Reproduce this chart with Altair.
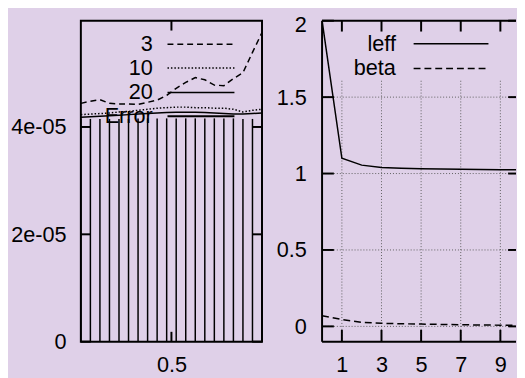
import altair as alt
import pandas as pd

BG = "#dfd0e8"
FONT = "Liberation Sans"
FS = 22

# ---------------- left panel data ----------------
lx = [0.025, 0.075, 0.125, 0.175, 0.225, 0.275, 0.325, 0.375, 0.425, 0.475,
      0.525, 0.575, 0.625, 0.675, 0.725, 0.775, 0.825, 0.875, 0.925, 0.975]
s3 = [4.44e-05, 4.48e-05, 4.51e-05, 4.44e-05, 4.43e-05, 4.43e-05, 4.42e-05, 4.46e-05, 4.50e-05, 4.59e-05,
      4.72e-05, 4.83e-05, 4.92e-05, 4.88e-05, 4.78e-05, 4.77e-05, 4.90e-05, 5.01e-05, 5.39e-05, 5.76e-05]
s10 = [4.23e-05, 4.24e-05, 4.25e-05, 4.26e-05, 4.28e-05, 4.29e-05, 4.31e-05, 4.33e-05, 4.35e-05, 4.36e-05,
       4.37e-05, 4.37e-05, 4.36e-05, 4.36e-05, 4.35e-05, 4.35e-05, 4.33e-05, 4.28e-05, 4.31e-05, 4.33e-05]
s20 = [4.18e-05, 4.19e-05, 4.20e-05, 4.21e-05, 4.22e-05, 4.23e-05, 4.24e-05, 4.25e-05, 4.26e-05, 4.27e-05,
       4.275e-05, 4.275e-05, 4.275e-05, 4.27e-05, 4.26e-05, 4.25e-05, 4.24e-05, 4.24e-05, 4.25e-05, 4.26e-05]
err = [4.15e-05, 4.15e-05, 4.15e-05, 4.15e-05, 4.15e-05, 4.15e-05, 4.16e-05, 4.16e-05, 4.16e-05, 4.16e-05,
       4.16e-05, 4.16e-05, 4.16e-05, 4.16e-05, 4.16e-05, 4.16e-05, 4.16e-05, 4.15e-05, 4.15e-05, 4.15e-05]
left_labels = ["3", "10", "20", "Error"]
left_yticks = [0, 2e-05, 4e-05]
left_xticks = [0.5]

# ---------------- right panel data ----------------
rx = [0, 1, 2, 3, 4, 5, 6, 7, 8, 9, 10]
leff = [2.0, 1.10, 1.055, 1.04, 1.035, 1.032, 1.03, 1.028, 1.026, 1.025, 1.024]
beta = [0.07, 0.045, 0.027, 0.02, 0.017, 0.015, 0.013, 0.011, 0.009, 0.008, 0.007]
right_labels = ["leff", "beta"]
right_yticks = [0, 0.5, 1, 1.5, 2]
right_xticks = [1, 3, 5, 7, 9]

LW, LH = 184, 326
RW, RH = 197, 326
K = "black"

one = pd.DataFrame({"a": [0]})

# ---------------- left panel ----------------
ldf = pd.DataFrame({"x": lx, "s3": s3, "s10": s10, "s20": s20, "err": err, "zero": [0.0] * len(lx)})
lxs = alt.Scale(domain=[0.025, 0.975], nice=False, zero=False)
lys = alt.Scale(domain=[0, 5.98e-05], nice=False, zero=False)
lxaxis = alt.Axis(values=left_xticks, labelExpr="'' + datum.value", ticks=False, tickSize=0,
                  domain=False, grid=False, labelPadding=13, title=None)
lyaxis = alt.Axis(values=left_yticks,
                  labelExpr="datum.value == 0 ? '0' : replace(format(datum.value, '.0e'), 'e-', 'e-0')",
                  ticks=False, tickSize=0, domain=False, grid=False, labelPadding=15,
                  minExtent=74, maxExtent=74, title=None)


def LX(f):
    return alt.X(f"{f}:Q", scale=lxs, axis=lxaxis)


def LY(f):
    return alt.Y(f"{f}:Q", scale=lys, axis=lyaxis)


llayers = []
llayers.append(alt.Chart(ldf).mark_rule(color=K, strokeWidth=1.5).encode(x=LX("x"), y=LY("err"), y2="zero:Q"))
llayers.append(alt.Chart(ldf).mark_line(color=K, strokeWidth=1.5, strokeDash=[6, 4]).encode(x=LX("x"), y=LY("s3")))
llayers.append(alt.Chart(ldf).mark_line(color=K, strokeWidth=1.5, strokeDash=[1.5, 2]).encode(x=LX("x"), y=LY("s10")))
llayers.append(alt.Chart(ldf).mark_line(color=K, strokeWidth=1.5).encode(x=LX("x"), y=LY("s20")))

ldash = [[6, 4], [1.5, 2], None, None]
lrows = [24, 48, 73, 97]
for lab, d, ry in zip(left_labels, ldash, lrows):
    llayers.append(alt.Chart(one).mark_text(align="right", baseline="middle", font=FONT, fontSize=FS, color=K)
                   .encode(x=alt.value(73), y=alt.value(ry), text=alt.value(lab)))
    kw = dict(color=K, strokeWidth=2 if lab == "Error" else 1.5)
    if d is not None:
        kw["strokeDash"] = d
    llayers.append(alt.Chart(one).mark_rule(**kw)
                   .encode(x=alt.value(88), x2=alt.value(156), y=alt.value(ry)))

lyt = pd.DataFrame({"v": left_yticks})
lxt = pd.DataFrame({"v": left_xticks})
llayers.append(alt.Chart(lyt).mark_rule(color=K, strokeWidth=2).encode(y=LY("v"), x=alt.value(0), x2=alt.value(10)))
llayers.append(alt.Chart(lyt).mark_rule(color=K, strokeWidth=2).encode(y=LY("v"), x=alt.value(LW - 10), x2=alt.value(LW)))
llayers.append(alt.Chart(lxt).mark_rule(color=K, strokeWidth=2).encode(x=LX("v"), y=alt.value(LH - 10), y2=alt.value(LH)))
llayers.append(alt.Chart(lxt).mark_rule(color=K, strokeWidth=2).encode(x=LX("v"), y=alt.value(0), y2=alt.value(10)))
llayers.append(alt.Chart(one).mark_rect(filled=False, stroke=K, strokeWidth=2)
               .encode(x=alt.value(0), x2=alt.value(LW), y=alt.value(0), y2=alt.value(LH)))

left = alt.layer(*llayers).properties(width=LW, height=LH)

# ---------------- right panel ----------------
rdf = pd.DataFrame({"x": rx, "leff": leff, "beta": beta})
rxs = alt.Scale(domain=[0, 9.79], nice=False, zero=False)
rys = alt.Scale(domain=[-0.1, 2], nice=False, zero=False)
rxaxis = alt.Axis(values=right_xticks, labelExpr="'' + datum.value", ticks=False, tickSize=0,
                  domain=False, grid=False, labelPadding=13, title=None)
ryaxis = alt.Axis(values=right_yticks, labelExpr="'' + datum.value", ticks=False, tickSize=0,
                  domain=False, grid=False, labelPadding=16, labelFlush=True, labelFlushOffset=6.5,
                  title=None)


def RX(f):
    return alt.X(f"{f}:Q", scale=rxs, axis=rxaxis)


def RY(f):
    return alt.Y(f"{f}:Q", scale=rys, axis=ryaxis)


rlayers = []
gx = pd.DataFrame({"v": right_xticks})
gy = pd.DataFrame({"v": [0, 0.5, 1, 1.5]})
rlayers.append(alt.Chart(gx).mark_rule(color="#606060", strokeWidth=1, strokeDash=[1, 2])
               .encode(x=RX("v"), y=alt.value(RH), y2=alt.value(60)))
rlayers.append(alt.Chart(gy).mark_rule(color="#606060", strokeWidth=1, strokeDash=[1, 2])
               .encode(y=RY("v"), x=alt.value(0), x2=alt.value(RW)))
rlayers.append(alt.Chart(rdf).mark_line(color=K, strokeWidth=1.5, clip=True).encode(x=RX("x"), y=RY("leff")))
rlayers.append(alt.Chart(rdf).mark_line(color=K, strokeWidth=1.5, strokeDash=[7, 4], clip=True)
               .encode(x=RX("x"), y=RY("beta")))

rdash = [None, [7, 4]]
rrows = [23.5, 48.5]
for lab, d, ry in zip(right_labels, rdash, rrows):
    rlayers.append(alt.Chart(one).mark_text(align="right", baseline="middle", font=FONT, fontSize=FS, color=K)
                   .encode(x=alt.value(75), y=alt.value(ry), text=alt.value(lab)))
    kw = dict(color=K, strokeWidth=1.5)
    if d is not None:
        kw["strokeDash"] = d
    rlayers.append(alt.Chart(one).mark_rule(**kw)
                   .encode(x=alt.value(93), x2=alt.value(169), y=alt.value(ry)))

ryt = pd.DataFrame({"v": right_yticks})
rxt = pd.DataFrame({"v": right_xticks})
rlayers.append(alt.Chart(ryt).mark_rule(color=K, strokeWidth=2).encode(y=RY("v"), x=alt.value(0), x2=alt.value(12)))
rlayers.append(alt.Chart(ryt).mark_rule(color=K, strokeWidth=2).encode(y=RY("v"), x=alt.value(RW - 8), x2=alt.value(RW)))
rlayers.append(alt.Chart(rxt).mark_rule(color=K, strokeWidth=2).encode(x=RX("v"), y=alt.value(RH - 12), y2=alt.value(RH)))
rlayers.append(alt.Chart(rxt).mark_rule(color=K, strokeWidth=2).encode(x=RX("v"), y=alt.value(0), y2=alt.value(11)))
# frame: left, top, bottom (right border lies beyond the visible area)
rlayers.append(alt.Chart(one).mark_rule(color=K, strokeWidth=2).encode(x=alt.value(0), y=alt.value(0), y2=alt.value(RH)))
rlayers.append(alt.Chart(one).mark_rule(color=K, strokeWidth=2).encode(x=alt.value(0), x2=alt.value(RW), y=alt.value(0)))
rlayers.append(alt.Chart(one).mark_rule(color=K, strokeWidth=2).encode(x=alt.value(0), x2=alt.value(RW), y=alt.value(RH)))

right = alt.layer(*rlayers).properties(width=RW, height=RH)

chart = (
    alt.hconcat(left, right, spacing=61, bounds="flush")
    .properties(padding={"top": 2, "left": 0, "right": 0, "bottom": 0}, background=BG)
    .configure_view(strokeWidth=0)
    .configure_axis(labelFont=FONT, labelFontSize=FS, labelColor=K)
)

chart.save("out.html", embed_options={"renderer": "svg", "actions": False})
